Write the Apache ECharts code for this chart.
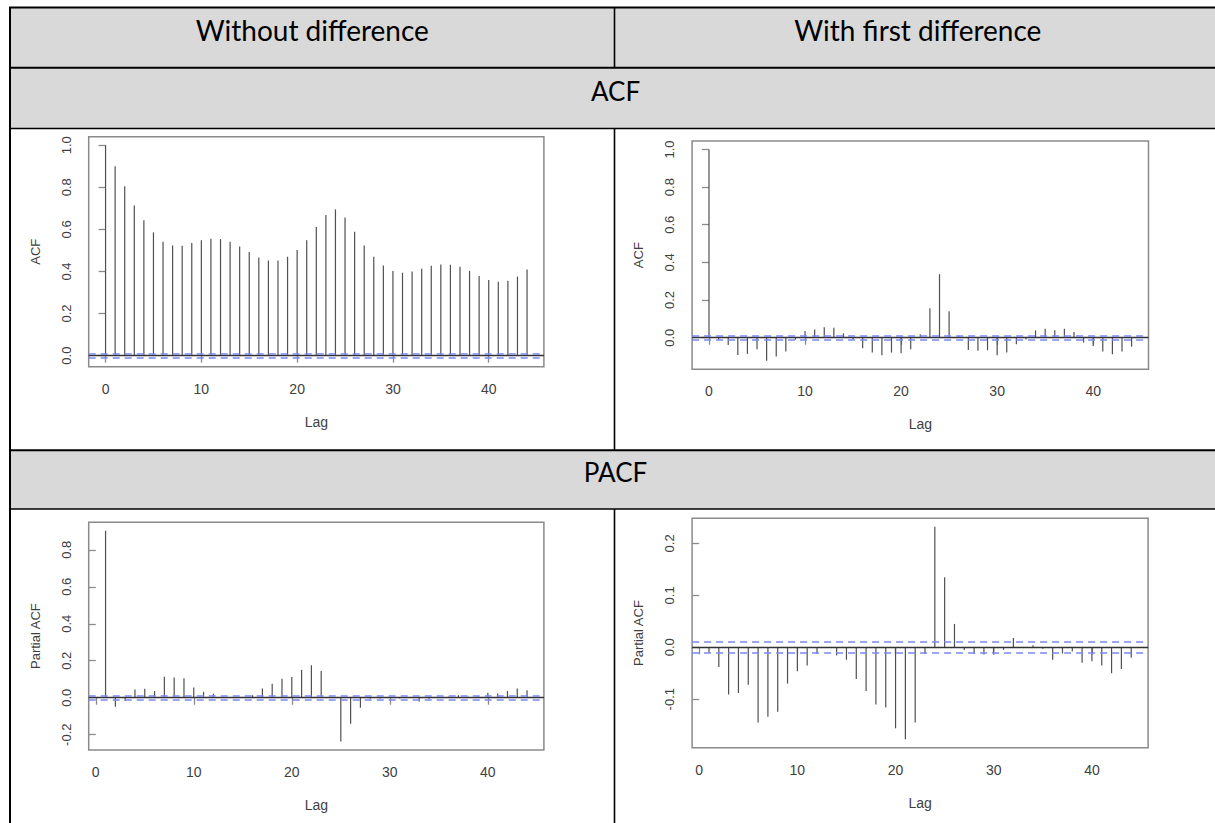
<!DOCTYPE html>
<html>
<head>
<meta charset="utf-8">
<title>ACF / PACF comparison</title>
<script src="https://cdn.jsdelivr.net/npm/echarts@6/dist/echarts.min.js"></script>
<style>
  html, body { margin: 0; padding: 0; background: #fff; }
  #main { width: 1215px; height: 823px; }
</style>
</head>
<body>
<div id="main"></div>
<script>
// lags (x positions of the spikes)
const acfLags = Array.from({ length: 45 }, (_, i) => i);      // 0..44
const pacfLags = Array.from({ length: 44 }, (_, i) => i + 1); // 1..44

// ACF, series without differencing
const acfLevel = [1.000, 0.900, 0.805, 0.714, 0.643, 0.586, 0.541, 0.524, 0.522, 0.535,
  0.548, 0.556, 0.554, 0.541, 0.519, 0.492, 0.467, 0.452, 0.452, 0.470,
  0.502, 0.549, 0.611, 0.668, 0.695, 0.656, 0.589, 0.524, 0.470, 0.429,
  0.402, 0.394, 0.400, 0.413, 0.427, 0.433, 0.432, 0.422, 0.403, 0.379,
  0.360, 0.351, 0.356, 0.376, 0.410];

// ACF, first difference
const acfDiff = [1.000, -0.010, -0.039, -0.092, -0.086, -0.062, -0.123, -0.100, -0.074, -0.010,
  0.035, 0.044, 0.056, 0.053, 0.023, -0.008, -0.056, -0.079, -0.093, -0.079,
  -0.083, -0.062, 0.018, 0.157, 0.337, 0.141, 0.010, -0.065, -0.070, -0.067,
  -0.093, -0.079, -0.035, -0.010, 0.039, 0.048, 0.039, 0.048, 0.030, -0.026,
  -0.044, -0.074, -0.088, -0.074, -0.048];

// PACF, without differencing (lag 1..44)
const pacfLevel = [0.903, -0.049, -0.018, 0.045, 0.049, 0.036, 0.113, 0.110, 0.106, 0.056,
  0.032, 0.022, 0.006, 0.004, 0.004, 0.014, 0.050, 0.076, 0.103, 0.112,
  0.151, 0.176, 0.144, 0.006, -0.237, -0.140, -0.054, -0.006, -0.004, 0.004,
  -0.004, 0.004, -0.020, -0.006, 0.004, 0.006, 0.014, 0.006, 0.008, 0.027,
  0.023, 0.036, 0.050, 0.041];

// PACF, first difference (lag 1..44)
const pacfDiff = [-0.010, -0.038, -0.091, -0.088, -0.072, -0.145, -0.134, -0.124, -0.070, -0.046,
  -0.035, -0.013, -0.001, -0.016, -0.024, -0.061, -0.084, -0.110, -0.116, -0.156,
  -0.177, -0.145, -0.013, 0.232, 0.135, 0.045, -0.005, -0.013, -0.014, -0.014,
  -0.005, 0.018, -0.001, 0.004, -0.003, -0.024, -0.012, -0.008, -0.030, -0.027,
  -0.035, -0.050, -0.042, -0.020];

const confLimit = 0.012; // blue dashed bounds

// tick labels
const lagTicks = [0, 10, 20, 30, 40];
const acfTicks = [0, 0.2, 0.4, 0.6, 0.8, 1.0];
const pacfLevelTicks = [-0.2, 0, 0.2, 0.4, 0.6, 0.8];
const pacfDiffTicks = [-0.1, 0, 0.1, 0.2];

// header texts
const colTitles = ["Without difference", "With first difference"];
const rowTitles = ["ACF", "PACF"];

// R pads axis ranges by 4% on each side
function padRange(lo, hi) {
  const d = (hi - lo) * 0.04;
  return [lo - d, hi + d];
}

const panels = [
  { lags: acfLags, values: acfLevel, ticks: acfTicks, yName: "ACF", box: { left: 88.7, top: 136.7, width: 455.2, height: 230 } },
  { lags: acfLags, values: acfDiff, ticks: acfTicks, yName: "ACF", box: { left: 692.1, top: 141, width: 456.4, height: 228.3 } },
  { lags: pacfLags, values: pacfLevel, ticks: pacfLevelTicks, yName: "Partial ACF", box: { left: 88.7, top: 522.3, width: 455.2, height: 227.7 } },
  { lags: pacfLags, values: pacfDiff, ticks: pacfDiffTicks, yName: "Partial ACF", box: { left: 692.1, top: 518.3, width: 456, height: 229.4 } },
];

const axisFont = "Liberation Sans";
const textGrey = "#404040";
const boxGrey = "#8a8a8a";

const grids = [], xAxes = [], yAxes = [], series = [];

panels.forEach((p, i) => {
  const xr = padRange(p.lags[0], p.lags[p.lags.length - 1]);
  const yr = padRange(Math.min(...p.values, -confLimit), Math.max(...p.values, confLimit));

  grids.push({
    left: p.box.left, top: p.box.top, width: p.box.width, height: p.box.height,
    show: true, borderColor: boxGrey, borderWidth: 1.5, backgroundColor: "transparent",
  });

  xAxes.push({
    type: "value", gridIndex: i, min: xr[0], max: xr[1],
    axisLine: { show: false },
    splitLine: { show: false },
    axisTick: { show: true, inside: false, length: 7, customValues: lagTicks, lineStyle: { color: boxGrey, width: 1.3 } },
    axisLabel: { customValues: lagTicks, margin: 15, color: textGrey, fontSize: 14, fontFamily: axisFont },
    name: "Lag", nameLocation: "middle", nameGap: 48,
    nameTextStyle: { color: textGrey, fontSize: 14, fontFamily: axisFont },
  });

  yAxes.push({
    type: "value", gridIndex: i, min: yr[0], max: yr[1],
    axisLine: { show: false },
    splitLine: { show: false },
    axisTick: { show: true, inside: false, length: 7, customValues: p.ticks, lineStyle: { color: boxGrey, width: 1.3 } },
    axisLabel: {
      customValues: p.ticks, rotate: 90, margin: 16, color: textGrey, fontSize: 13, fontFamily: axisFont,
      formatter: (v) => v.toFixed(1),
    },
    name: p.yName, nameLocation: "middle", nameRotate: 90, nameGap: 47,
    nameTextStyle: { color: textGrey, fontSize: 13, fontFamily: axisFont },
  });

  series.push({
    type: "bar", xAxisIndex: i, yAxisIndex: i,
    data: p.lags.map((lag, k) => [lag, p.values[k]]),
    barWidth: 1.2,
    itemStyle: { color: "#505050" },
    silent: true,
    markLine: {
      silent: true, symbol: "none", label: { show: false },
      data: [
        { yAxis: 0, lineStyle: { color: "#333", width: 1.3, type: "solid" } },
        { yAxis: confLimit, lineStyle: { color: "#7c86f2", width: 1.6, type: [7, 5] } },
        { yAxis: -confLimit, lineStyle: { color: "#7c86f2", width: 1.6, type: [7, 5] } },
      ],
    },
  });
});

// table frame drawn around the plots
const tableLeft = 10, tableRight = 1221, colSplit = 614.5;
const headerTop = 7.5, headerBottom = 67.7, acfRowBottom = 128.5, pacfRowTop = 450.3, pacfRowBottom = 509;
const cellGrey = "#d9d9d9";
const headerFont = "Lato";

function hLine(y, x1, x2, w) {
  return { type: "line", shape: { x1: x1, y1: y, x2: x2, y2: y }, style: { stroke: "#000", lineWidth: w }, z: 10 };
}
function vLine(x, y1, y2, w) {
  return { type: "line", shape: { x1: x, y1: y1, x2: x, y2: y2 }, style: { stroke: "#000", lineWidth: w }, z: 10 };
}
function cellText(t, x, y, size) {
  return { type: "text", x: x, y: y, z: 11,
    style: { text: t, fill: "#000", fontSize: size, fontFamily: headerFont, textAlign: "center", textVerticalAlign: "middle" } };
}

const graphic = [
  { type: "rect", shape: { x: tableLeft, y: headerTop, width: tableRight - tableLeft, height: acfRowBottom - headerTop }, style: { fill: cellGrey }, z: 1 },
  { type: "rect", shape: { x: tableLeft, y: pacfRowTop, width: tableRight - tableLeft, height: pacfRowBottom - pacfRowTop }, style: { fill: cellGrey }, z: 1 },
  hLine(headerTop, tableLeft - 1, tableRight, 2.2),
  hLine(headerBottom, tableLeft, tableRight, 2),
  hLine(acfRowBottom, tableLeft, tableRight, 1.3),
  hLine(pacfRowTop, tableLeft, tableRight, 2),
  hLine(pacfRowBottom, tableLeft, tableRight, 1.3),
  vLine(tableLeft, headerTop, 823, 2),
  vLine(colSplit, headerTop, headerBottom, 1.6),
  vLine(colSplit, acfRowBottom, pacfRowTop, 1.6),
  vLine(colSplit, pacfRowBottom, 823, 1.6),
  cellText(colTitles[0], (tableLeft + colSplit) / 2, 30, 28),
  cellText(colTitles[1], (colSplit + tableRight) / 2, 30, 28),
  cellText(rowTitles[0], (tableLeft + tableRight) / 2, 91, 26),
  cellText(rowTitles[1], (tableLeft + tableRight) / 2, 472, 26),
];

const chart = echarts.init(document.getElementById("main"), null, { renderer: "svg" });
chart.setOption({
  animation: false,
  grid: grids,
  xAxis: xAxes,
  yAxis: yAxes,
  series: series,
  graphic: graphic,
});
</script>
</body>
</html>
